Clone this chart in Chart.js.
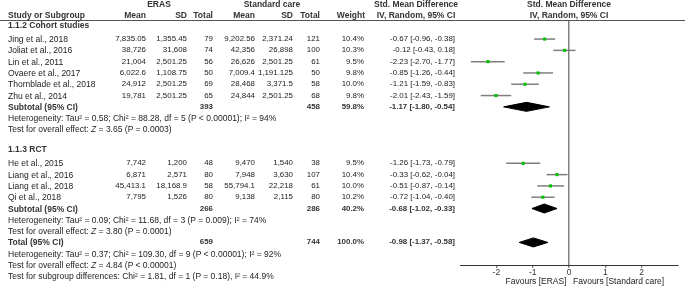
<!DOCTYPE html>
<html lang="en">
<head>
<meta charset="UTF-8">
<title>ERAS vs standard care - forest plot</title>
<script src="https://cdn.jsdelivr.net/npm/chart.js"></script>
<style>
  body { margin: 0; background: #fff; }
  #wrap { position: relative; width: 685px; height: 294px; overflow: hidden;
          font-family: "Liberation Sans", Arial, sans-serif; font-size: 8.5px; color: #222; }
  #plot { position: absolute; left: 0; top: 0; }
  .t { position: absolute; white-space: nowrap; line-height: 10px; }
  .n { font-size: 7.9px; }
  .b { font-weight: bold; color: #333; }
  #rule { position: absolute; left: 0; width: 685px; top: 20px; border-top: 1px solid #555; }
</style>
</head>
<body>
<div id="wrap">
  <canvas id="plot" width="685" height="294"></canvas>
  <div id="rule"></div>
</div>

<script>
// --- 1.1.2 Cohort studies
var cohortNames = ['Jing et al., 2018', 'Joliat et al., 2016', 'Lin et al., 2011', 'Ovaere et al., 2017', 'Thornblade et al., 2018', 'Zhu et al., 2014'];
var cohortErasMean = ['7,835.05', '38,726', '21,004', '6,022.6', '24,912', '19,781'];
var cohortErasSD = ['1,355.45', '31,608', '2,501.25', '1,108.75', '2,501.25', '2,501.25'];
var cohortErasN = [79, 74, 56, 50, 69, 65];
var cohortCareMean = ['9,202.56', '42,356', '26,626', '7,009.4', '28,468', '24,844'];
var cohortCareSD = ['2,371.24', '26,898', '2,501.25', '1,191.125', '3,371.5', '2,501.25'];
var cohortCareN = [121, 100, 61, 50, 58, 68];
var cohortWeight = [10.4, 10.3, 9.5, 9.8, 10.0, 9.8];
var cohortSMD = [-0.67, -0.12, -2.23, -0.85, -1.21, -2.01];
var cohortLow = [-0.96, -0.43, -2.70, -1.26, -1.59, -2.43];
var cohortHigh = [-0.38, 0.18, -1.77, -0.44, -0.83, -1.59];

// --- 1.1.3 RCT
var rctNames = ['He et al., 2015', 'Liang et al., 2016', 'Liang et al., 2018', 'Qi et al., 2018'];
var rctErasMean = ['7,742', '6,871', '45,413.1', '7,795'];
var rctErasSD = ['1,200', '2,571', '18,168.9', '1,526'];
var rctErasN = [48, 80, 58, 80];
var rctCareMean = ['9,470', '7,948', '55,794.1', '9,138'];
var rctCareSD = ['1,540', '3,630', '22,218', '2,115'];
var rctCareN = [38, 107, 61, 80];
var rctWeight = [9.5, 10.4, 10.0, 10.2];
var rctSMD = [-1.26, -0.33, -0.51, -0.72];
var rctLow = [-1.73, -0.62, -0.87, -1.04];
var rctHigh = [-0.79, -0.04, -0.14, -0.40];

// --- subgroup summaries
var subgroupLabels = ['1.1.2 Cohort studies', '1.1.3 RCT'];
var subtotalErasN = [393, 266];
var subtotalCareN = [458, 286];
var subtotalWeight = [59.8, 40.2];
var subtotalSMD = [-1.17, -0.68];
var subtotalLow = [-1.80, -1.02];
var subtotalHigh = [-0.54, -0.33];
var subtotalHet = ['Heterogeneity: Tau² = 0.58; Chi² = 88.28, df = 5 (P < 0.00001); I² = 94%',
                   'Heterogeneity: Tau² = 0.09; Chi² = 11.68, df = 3 (P = 0.009); I² = 74%'];
var subtotalZ = ['Z</i> = 3.65 (P = 0.0003)', 'Z</i> = 3.80 (P = 0.0001)'];

// --- overall
var totalErasN = 659;
var totalCareN = 744;
var totalWeight = 100.0;
var totalSMD = -0.98;
var totalLow = -1.37;
var totalHigh = -0.58;
var totalHet = 'Heterogeneity: Tau² = 0.37; Chi² = 109.30, df = 9 (P < 0.00001); I² = 92%';
var totalZ = 'Z</i> = 4.84 (P < 0.00001)';
var subgroupDiff = 'Test for subgroup differences: Chi² = 1.81, df = 1 (P = 0.18), I² = 44.9%';

var xTicks = [-2, -1, 0, 1, 2];

var groups = [
  { names: cohortNames, em: cohortErasMean, es: cohortErasSD, en: cohortErasN, cm: cohortCareMean, cs: cohortCareSD, cn: cohortCareN,
    w: cohortWeight, smd: cohortSMD, lo: cohortLow, hi: cohortHigh },
  { names: rctNames, em: rctErasMean, es: rctErasSD, en: rctErasN, cm: rctCareMean, cs: rctCareSD, cn: rctCareN,
    w: rctWeight, smd: rctSMD, lo: rctLow, hi: rctHigh }
];

// row layout (one unit = one text line)
var r = 0;
groups.forEach(function(g, gi) {
  g.headRow = r - 1.25;
  g.rows = g.names.map(function(_, i) { return r + i; });
  r += g.names.length;
  g.subRow = r;
  r += 5;      // subtotal, heterogeneity, test, blank, next header
});
var totalRow = r - 2;

var HALF = 0.4; // diamond half height in rows

var pointData = [];
var datasets = [];
groups.forEach(function(g, gi) {
  g.names.forEach(function(_, i) {
    pointData.push({ x: g.smd[i], y: g.rows[i] });
    datasets.push({
      data: [{ x: g.lo[i], y: g.rows[i] }, { x: g.hi[i], y: g.rows[i] }],
      showLine: true, borderColor: '#7f7f7f', borderWidth: 1.5, pointRadius: 0, order: 2
    });
  });
});

function diamond(est, lo, hi, row) {
  return {
    data: [{ x: lo, y: row }, { x: est, y: row - HALF }, { x: hi, y: row }, { x: est, y: row + HALF }, { x: lo, y: row }],
    showLine: true, fill: 'shape', backgroundColor: '#000', borderColor: '#000', borderWidth: 1,
    pointRadius: 0, tension: 0, order: 1
  };
}
groups.forEach(function(g, gi) {
  datasets.push(diamond(subtotalSMD[gi], subtotalLow[gi], subtotalHigh[gi], g.subRow));
});
datasets.push(diamond(totalSMD, totalLow, totalHigh, totalRow));

datasets.unshift({
  data: pointData, pointStyle: 'rect', pointRadius: 2.2, backgroundColor: '#00c000',
  borderWidth: 0, order: 0
});

Chart.defaults.font.family = "'Liberation Sans', Arial, sans-serif";

var ctx = document.getElementById('plot').getContext('2d');
var chart = new Chart(ctx, {
  type: 'scatter',
  data: { datasets: datasets },
  options: {
    responsive: false,
    animation: false,
    layout: { padding: { left: 460, right: 7, top: 21, bottom: 0 } },
    plugins: { legend: { display: false }, tooltip: { enabled: false } },
    scales: {
      x: {
        type: 'linear', min: -3, max: 3,
        afterBuildTicks: function(s) { s.ticks = xTicks.map(function(v) { return { value: v }; }); },
        afterFit: function(s) { s.height = 29; },
        border: { color: '#333', width: 1 },
        grid: {
          color: function(c) { return c.tick && c.tick.value === 0 ? '#808080' : 'rgba(0,0,0,0)'; },
          lineWidth: 1.5, tickColor: '#555', tickLength: 3, tickWidth: 1
        },
        ticks: { color: '#333', font: { size: 8.5 }, padding: 0, maxRotation: 0 }
      },
      y: { type: 'linear', reverse: true, min: -1.6, max: 20, display: false }
    }
  }
});

// ---- table text, placed on the same rows as the plot
var wrap = document.getElementById('wrap');
function put(txt, x, row, align, cls) {
  var d = document.createElement('div');
  d.className = 't' + (cls ? ' ' + cls : '');
  d.innerHTML = txt;
  d.style.top = (chart.scales.y.getPixelForValue(row) - 5) + 'px';
  if (align === 'right') d.style.right = (685 - x) + 'px';
  else if (align === 'center') { d.style.left = x + 'px'; d.style.transform = 'translateX(-50%)'; }
  else d.style.left = x + 'px';
  wrap.appendChild(d);
}
function ci(e, l, h) { return e.toFixed(2) + ' [' + l.toFixed(2) + ', ' + h.toFixed(2) + ']'; }

var zeroX = chart.scales.x.getPixelForValue(0);
var COL = { name: 8, em: 146, es: 187, en: 213, cm: 255, cs: 293, cn: 320, w: 364, ci: 455, ciMid: 416 };

// headers
put('ERAS', 159, -3.1, 'center', 'b');
put('Standard care', 272, -3.1, 'center', 'b');
put('Std. Mean Difference', COL.ciMid, -3.1, 'center', 'b');
put('Std. Mean Difference', zeroX, -3.1, 'center', 'b');
put('Study or Subgroup', COL.name, -2.12, 'left', 'b');
put('Mean', COL.em, -2.12, 'right', 'b');
put('SD', COL.es, -2.12, 'right', 'b');
put('Total', COL.en, -2.12, 'right', 'b');
put('Mean', COL.cm, -2.12, 'right', 'b');
put('SD', COL.cs, -2.12, 'right', 'b');
put('Total', COL.cn, -2.12, 'right', 'b');
put('Weight', COL.w + 1, -2.12, 'right', 'b');
put('IV, Random, 95% CI', COL.ciMid, -2.12, 'center', 'b');
put('IV, Random, 95% CI', zeroX, -2.12, 'center', 'b');

groups.forEach(function(g, gi) {
  put(subgroupLabels[gi], COL.name, g.headRow, 'left', 'b');
  g.names.forEach(function(n, i) {
    var row = g.rows[i];
    put(n, COL.name, row, 'left');
    put(g.em[i], COL.em, row, 'right', 'n');
    put(g.es[i], COL.es, row, 'right', 'n');
    put(String(g.en[i]), COL.en, row, 'right', 'n');
    put(g.cm[i], COL.cm, row, 'right', 'n');
    put(g.cs[i], COL.cs, row, 'right', 'n');
    put(String(g.cn[i]), COL.cn, row, 'right', 'n');
    put(g.w[i].toFixed(1) + '%', COL.w, row, 'right', 'n');
    put(ci(g.smd[i], g.lo[i], g.hi[i]), COL.ci, row, 'right', 'n');
  });
  var s = g.subRow;
  put('Subtotal (95% CI)', COL.name, s, 'left', 'b');
  put(String(subtotalErasN[gi]), COL.en, s, 'right', 'b n');
  put(String(subtotalCareN[gi]), COL.cn, s, 'right', 'b n');
  put(subtotalWeight[gi].toFixed(1) + '%', COL.w, s, 'right', 'b n');
  put(ci(subtotalSMD[gi], subtotalLow[gi], subtotalHigh[gi]), COL.ci, s, 'right', 'b n');
  put(subtotalHet[gi], COL.name, s + 1, 'left');
  put('Test for overall effect: <i>' + subtotalZ[gi], COL.name, s + 2, 'left');
});

put('Total (95% CI)', COL.name, totalRow, 'left', 'b');
put(String(totalErasN), COL.en, totalRow, 'right', 'b n');
put(String(totalCareN), COL.cn, totalRow, 'right', 'b n');
put(totalWeight.toFixed(1) + '%', COL.w, totalRow, 'right', 'b n');
put(ci(totalSMD, totalLow, totalHigh), COL.ci, totalRow, 'right', 'b n');
put(totalHet, COL.name, totalRow + 1, 'left');
put('Test for overall effect: <i>' + totalZ, COL.name, totalRow + 2, 'left');
put(subgroupDiff, COL.name, totalRow + 3, 'left');

// favours labels under the axis
put('Favours [ERAS]', zeroX - 2.5, 21.45, 'right');
put('Favours [Standard care]', zeroX + 4, 21.45, 'left');
</script>
</body>
</html>
